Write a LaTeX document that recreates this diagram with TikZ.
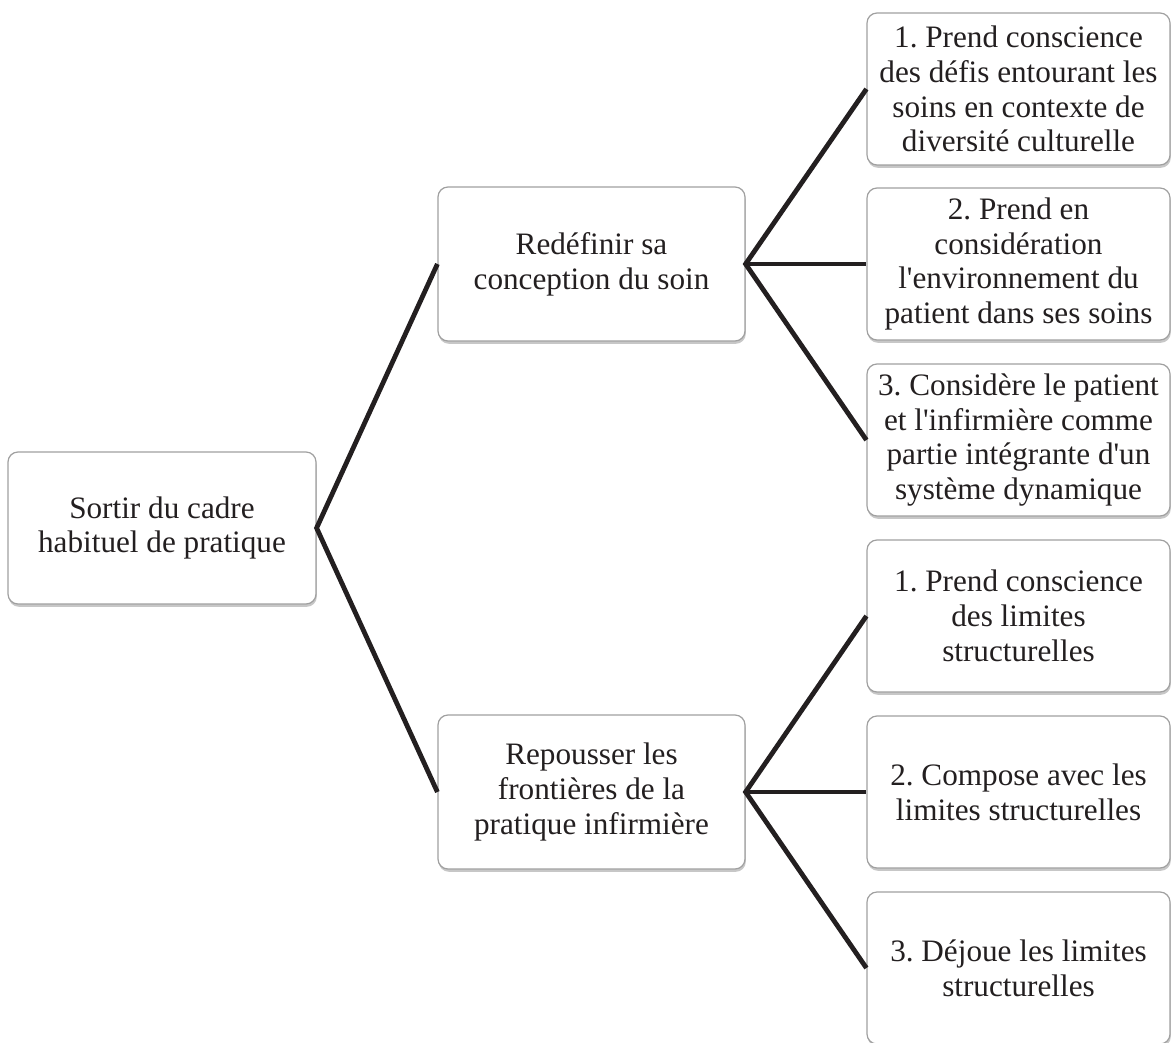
\documentclass[tikz,border=0pt]{standalone}
\usepackage{fontspec}
% no TeX input mapping, so that ' stays a straight apostrophe
\setmainfont[Ligatures=TeXOff]{Liberation Serif}
\frenchspacing
\usetikzlibrary{shadows}
\definecolor{ink}{RGB}{35,31,32}
\definecolor{frame}{RGB}{160,160,160}
\begin{document}
\begin{tikzpicture}[x=0.5pt,y=-0.5pt,
  box/.style={draw=frame, line width=0.6pt, fill=white, rounded corners=5pt,
    text=ink, align=center, inner sep=2pt,
    font=\fontsize{15.6}{17.4}\selectfont,
    drop shadow={shadow xshift=0.4pt, shadow yshift=-1.4pt, fill=black, opacity=0.22}},
  rootbox/.style={box, minimum width=154pt, minimum height=76pt},
  midbox/.style={box, minimum width=153.5pt, minimum height=77pt},
  leafbox/.style={box, minimum width=151.5pt, minimum height=76pt},
  link/.style={draw=ink, line width=2.4pt}]
\useasboundingbox (0,0) rectangle (1172,1043);

\node[rootbox] (root) at (162,528) {Sortir du cadre\\habituel de pratique};

\node[midbox] (m1) at (591.5,264) {Redéfinir sa\\conception du soin};
\node[midbox] (m2) at (591.5,792) {Repousser les\\frontières de la\\pratique infirmière};

\node[leafbox] (a1) at (1018.5,89) {1. Prend conscience\\des défis entourant les\\soins en contexte de\\diversité culturelle};
\node[leafbox] (a2) at (1018.5,264) {2. Prend en\\considération\\l'environnement du\\patient dans ses soins};
\node[leafbox] (a3) at (1018.5,440) {3. Considère le patient\\et l'infirmière comme\\partie intégrante d'un\\système dynamique};

\node[leafbox] (b1) at (1018.5,616) {1. Prend conscience\\des limites\\structurelles};
\node[leafbox] (b2) at (1018.5,792) {2. Compose avec les\\limites structurelles};
\node[leafbox] (b3) at (1018.5,968) {3. Déjoue les limites\\structurelles};

\draw[link] (m1.west) -- (root.east) -- (m2.west);
\draw[link] (a1.west) -- (m1.east) -- (a3.west);
\draw[link] (m1.east) -- (a2.west);
\draw[link] (b1.west) -- (m2.east) -- (b3.west);
\draw[link] (m2.east) -- (b2.west);
\end{tikzpicture}
\end{document}
